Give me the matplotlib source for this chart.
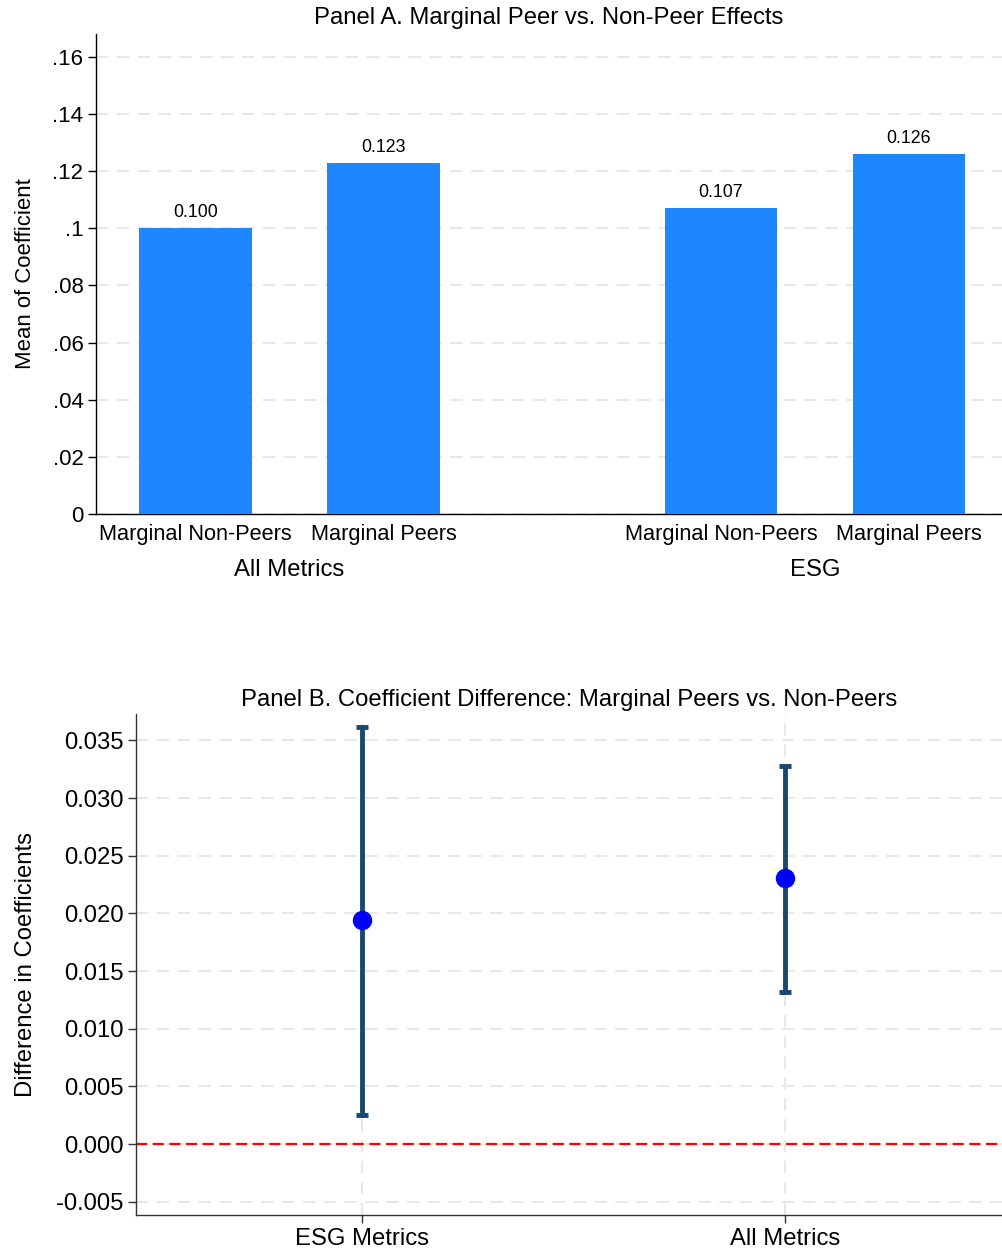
import matplotlib
matplotlib.use("Agg")
import matplotlib.pyplot as plt
import matplotlib.transforms as mtransforms
from matplotlib.ticker import FuncFormatter
import numpy as np

plt.rcParams['font.family'] = ['Liberation Sans', 'DejaVu Sans']

# ---------------- data ----------------
groups = ["All Metrics", "ESG"]
categories = ["Marginal Non-Peers", "Marginal Peers"]
bar_values = [[0.100, 0.123], [0.107, 0.126]]
bar_labels = [["0.100", "0.123"], ["0.107", "0.126"]]
yticks_a = [0, 0.02, 0.04, 0.06, 0.08, 0.10, 0.12, 0.14, 0.16]

diff_labels = ["ESG Metrics", "All Metrics"]
diff_means = [0.0194, 0.0231]
diff_lo = [0.0025, 0.0132]
diff_hi = [0.0362, 0.0328]
yticks_b = [-0.005, 0.0, 0.005, 0.010, 0.015, 0.020, 0.025, 0.030, 0.035]

# ---------------- styling ----------------
bar_color = "#1E87FF"
ci_color = "#1A4770"
dot_color = "#0000FF"
grid_color = "#E8E8E8"

fig = plt.figure(figsize=(10.02, 12.53), dpi=100)

# ---------------- Panel A ----------------
ax1 = fig.add_axes([0.0958, 0.5898, 0.9042, 0.3831])
group_gap = 1.795
bar_w = 0.6
positions = []
for gi, g in enumerate(groups):
    base = gi * (1 + group_gap)
    for ci, c in enumerate(categories):
        positions.append(base + ci)
flat_vals = [v for gv in bar_values for v in gv]
flat_lbls = [l for gl in bar_labels for l in gl]
flat_cats = [c for _ in groups for c in categories]

ax1.bar(positions, flat_vals, width=bar_w, color=bar_color, zorder=3)
for x, v, l in zip(positions, flat_vals, flat_lbls):
    ax1.annotate(l, (x, v), xytext=(0, 5), textcoords="offset points",
                 ha="center", va="bottom", fontsize=12.8)

ax1.set_xlim(-0.529, 4.29)
ax1.set_ylim(0, 0.168)
ax1.set_yticks(yticks_a)
def fmt_a(v, pos):
    if abs(v) < 1e-12:
        return "0"
    s = f"{v:.2f}".rstrip("0")
    return s[1:] if s.startswith("0") else s
ax1.yaxis.set_major_formatter(FuncFormatter(fmt_a))
ax1.set_xticks(positions)
ax1.set_xticklabels(flat_cats, fontsize=15.7)
ax1.tick_params(axis="x", length=0, pad=7)
ax1.tick_params(axis="y", labelsize=16, length=6, width=1, pad=3)
ax1.yaxis.grid(True, color=grid_color, linestyle=(0, (6, 4)), linewidth=1.5, zorder=0)
ax1.set_axisbelow(True)
for s in ["top", "right"]:
    ax1.spines[s].set_visible(False)
for s in ["left", "bottom"]:
    ax1.spines[s].set_linewidth(1.0)
ax1.set_ylabel("Mean of Coefficient", fontsize=15.9, labelpad=12)
ax1.set_title("Panel A. Marginal Peer vs. Non-Peer Effects", fontsize=17.2, pad=7)

trans = mtransforms.blended_transform_factory(ax1.transData, ax1.transAxes)
for gi, g in enumerate(groups):
    center = np.mean(positions[gi * 2: gi * 2 + 2])
    ax1.text(center, -0.1165, g, transform=trans, ha="center", va="center", fontsize=17.2)

# ---------------- Panel B ----------------
ax2 = fig.add_axes([0.1357, 0.0303, 0.8643, 0.3999])
xb = np.arange(len(diff_labels))
means = np.array(diff_means)
yerr = np.vstack([means - np.array(diff_lo), np.array(diff_hi) - means])
eb = ax2.errorbar(xb, means, yerr=yerr, fmt="none", ecolor=ci_color, elinewidth=3.5,
                  capsize=4, capthick=3.5, zorder=3)
for cap in eb[1]:
    cap.set_solid_capstyle("round")
for lc in eb[2]:
    lc.set_capstyle("round")
ax2.plot(xb, means, "o", color=dot_color, markersize=13, zorder=4)
ax2.axhline(0, color="red", linestyle=(0, (5, 2.5)), linewidth=1.6, zorder=2)

ax2.set_xlim(-0.534, 1.513)
ax2.set_ylim(-0.00616, 0.0373)
ax2.set_yticks(yticks_b)
ax2.yaxis.set_major_formatter(FuncFormatter(lambda v, p: f"{v:.3f}" if abs(v) > 1e-12 else "0.000"))
ax2.set_xticks(xb)
ax2.set_xticklabels(diff_labels, fontsize=17.2)
ax2.tick_params(axis="x", length=6, width=1, pad=3, colors="#333333", labelcolor="black")
ax2.tick_params(axis="y", labelsize=17.2, length=6, width=1, pad=3, colors="#333333", labelcolor="black")
ax2.grid(True, color=grid_color, linestyle=(0, (6, 4)), linewidth=1.5, zorder=0)
ax2.set_axisbelow(True)
for s in ["top", "right"]:
    ax2.spines[s].set_visible(False)
for s in ["left", "bottom"]:
    ax2.spines[s].set_linewidth(1.0)
    ax2.spines[s].set_color("#333333")
ax2.set_ylabel("Difference in Coefficients", fontsize=17.2, labelpad=14)
ax2.set_title("Panel B. Coefficient Difference: Marginal Peers vs. Non-Peers", fontsize=17.2, pad=6)

fig.savefig("out.png", dpi=100)
